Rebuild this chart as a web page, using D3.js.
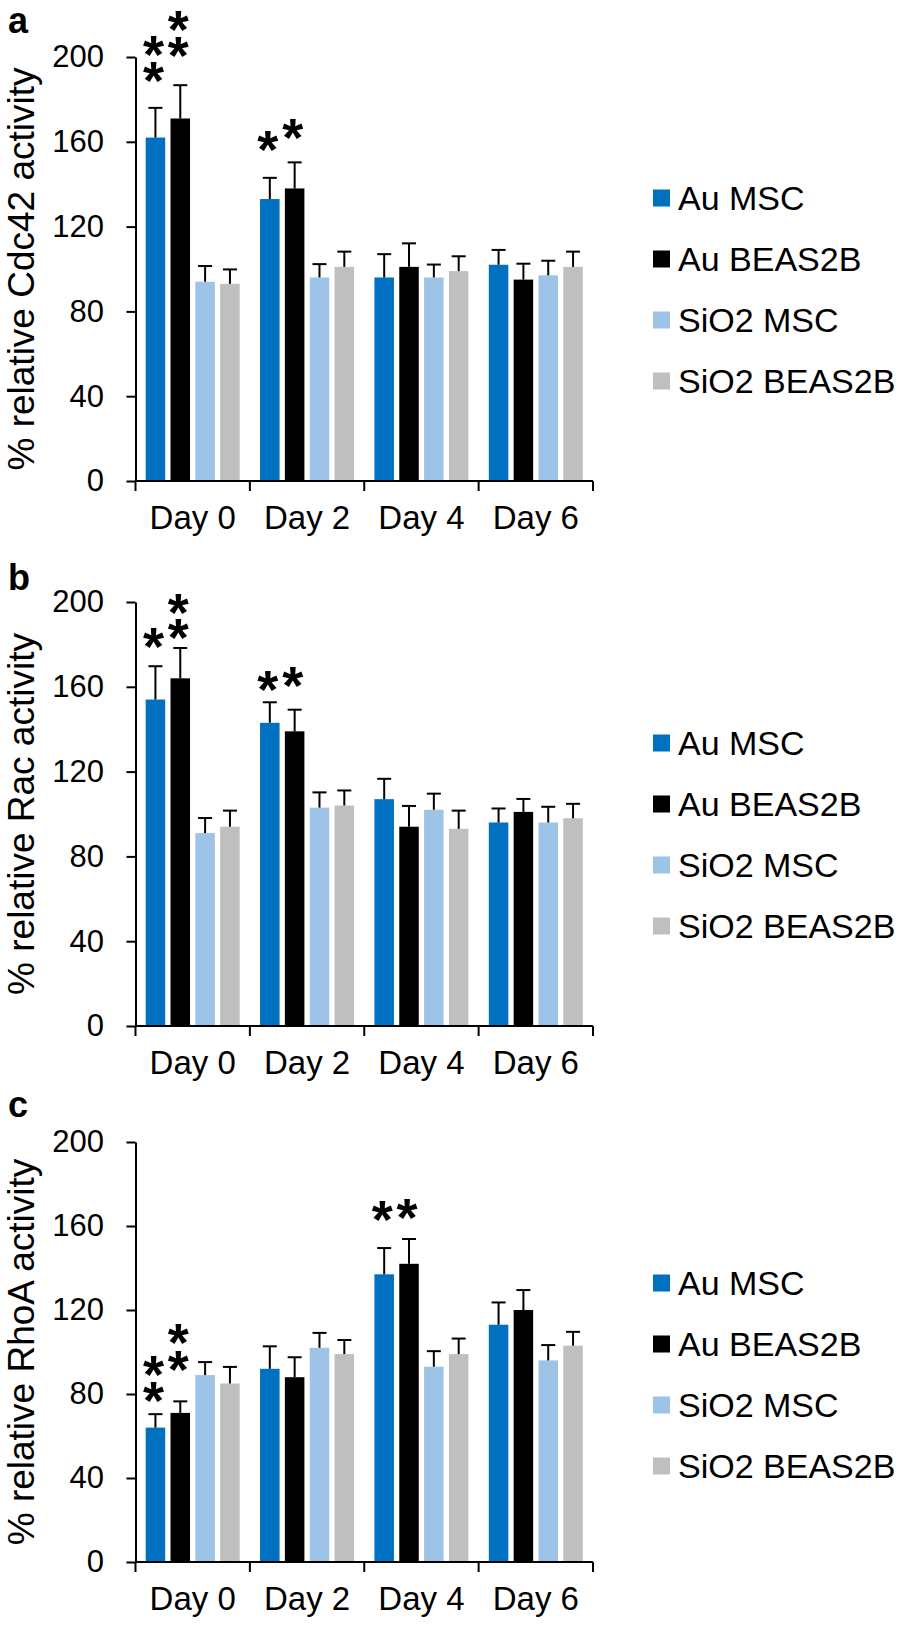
<!DOCTYPE html>
<html><head><meta charset="utf-8">
<script src="https://cdn.jsdelivr.net/npm/d3@7"></script>
<style>body{margin:0;background:#fff} svg{display:block}</style>
</head><body>
<script>
// ---------- data ----------
const days = ["Day 0", "Day 2", "Day 4", "Day 6"];
const seriesNames = ["Au MSC", "Au BEAS2B", "SiO2 MSC", "SiO2 BEAS2B"];
const seriesColors = ["#0070C0", "#000000", "#9DC3E6", "#BFBFBF"];
const yTicks = [0, 40, 80, 120, 160, 200];
const panelLetters = ["a", "b", "c"];
const yTitles = ["% relative Cdc42 activity", "% relative Rac activity", "% relative RhoA activity"];

// means [series][day]
const cdc42Mean = [[162, 133, 96, 102], [171, 138, 101, 95], [94, 96, 96, 97], [93, 101, 99, 101]];
const cdc42Err  = [[14, 10, 11, 7], [15.7, 12.3, 11.1, 7.5], [7.4, 6.3, 6.1, 6.9], [6.8, 7.2, 7, 7.2]];
const racMean   = [[154, 143, 107, 96], [164, 139, 94, 101], [91, 103, 102, 96], [94, 104, 93, 98]];
const racErr    = [[15.7, 9.7, 9.6, 6.6], [14.3, 10.2, 9.8, 6.1], [7.1, 7.2, 7.6, 7.4], [7.6, 7.1, 8.6, 6.8]];
const rhoaMean  = [[64, 92, 137, 113], [71, 88, 142, 120], [89, 102, 93, 96], [85, 99, 99, 103]];
const rhoaErr   = [[6.4, 10.7, 12.5, 10.6], [5.5, 9.5, 11.8, 9.5], [6.2, 7.1, 7.4, 7.3], [7.9, 6.7, 7.4, 6.6]];

// significance asterisks: [dayIndex, seriesIndex, value levels of the star centres (bottom to top)]
const cdc42Stars = [[0, 0, [194.8, 207.1]], [0, 1, [206.5, 218.8]], [1, 0, [162.3]], [1, 1, [167.9]]];
const racStars   = [[0, 0, [184.8]], [0, 1, [189, 200.8]], [1, 0, [164.5]], [1, 1, [166.4]]];
const rhoaStars  = [[0, 0, [82.9, 95.2]], [0, 1, [97.6, 110.5]], [2, 0, [169]], [2, 1, [170]]];

const panelMeans = [cdc42Mean, racMean, rhoaMean];
const panelErrs = [cdc42Err, racErr, rhoaErr];
const panelStars = [cdc42Stars, racStars, rhoaStars];

// ---------- layout ----------
const W = 898, H = 1627;
const FONT = "'Liberation Sans', Arial, Helvetica, sans-serif";
const xLeft = 135.5, xRight = 593;
const panelY = [[57, 481], [602, 1026], [1142, 1562]]; // [top(200), bottom(0)]
const letterBase = [33, 590, 1117];
const starFs = 54;

const svg = d3.select("body").append("svg")
  .attr("width", W).attr("height", H)
  .style("font-family", FONT);

// measure asterisk advance in vertical upright mode
const probe = svg.append("text")
  .style("writing-mode", "vertical-lr").style("text-orientation", "upright")
  .attr("font-size", starFs).attr("font-weight", "bold").text("*");
const starAdv = probe.node().getComputedTextLength();
const pb = probe.node().getBBox();
probe.remove();

const x = d3.scaleBand().domain(days).range([xLeft, xRight]).paddingInner(0).paddingOuter(0);
const xs = d3.scaleBand().domain(seriesNames).range([0, x.bandwidth()])
  .paddingInner(0.214).paddingOuter(0.41);
const color = d3.scaleOrdinal().domain(seriesNames).range(seriesColors);

panelLetters.forEach((letter, p) => {
  const [top, bottom] = panelY[p];
  const y = d3.scaleLinear().domain([0, 200]).range([bottom, top]);
  const g = svg.append("g");
  const means = panelMeans[p], errs = panelErrs[p];
  const cx = (di, si) => x(days[di]) + xs(seriesNames[si]) + xs.bandwidth() / 2;

  // bars + error bars
  seriesNames.forEach((s, si) => {
    const sg = g.append("g");
    sg.selectAll("rect").data(days).join("rect")
      .attr("x", d => x(d) + xs(s))
      .attr("width", xs.bandwidth())
      .attr("y", (d, di) => y(means[si][di]))
      .attr("height", (d, di) => y(0) - y(means[si][di]))
      .attr("fill", color(s));
    sg.selectAll("line.eb").data(days).join("line").attr("class", "eb")
      .attr("x1", (d, di) => cx(di, si)).attr("x2", (d, di) => cx(di, si))
      .attr("y1", (d, di) => y(means[si][di]))
      .attr("y2", (d, di) => y(means[si][di] + errs[si][di]))
      .attr("stroke", "#000").attr("stroke-width", 2);
    sg.selectAll("line.cap").data(days).join("line").attr("class", "cap")
      .attr("x1", (d, di) => cx(di, si) - 7).attr("x2", (d, di) => cx(di, si) + 7)
      .attr("y1", (d, di) => y(means[si][di] + errs[si][di]))
      .attr("y2", (d, di) => y(means[si][di] + errs[si][di]))
      .attr("stroke", "#000").attr("stroke-width", 2);
  });

  // asterisks: one vertical text run per stack
  panelStars[p].forEach(([di, si, vals]) => {
    const topV = d3.max(vals), botV = d3.min(vals);
    const n = vals.length;
    const gap = n > 1 ? (y(botV) - y(topV)) / (n - 1) : 0;
    const t = g.append("text").attr("class", "star")
      .style("writing-mode", "vertical-lr").style("text-orientation", "upright")
      .attr("font-size", starFs).attr("font-weight", "bold")
      .attr("x", cx(di, si) - 2)
      .text("*".repeat(n));
    if (n > 1) t.style("letter-spacing", (gap - starAdv) + "px");
    // ink centre of an asterisk sits ~0.57em above the baseline; in upright vertical
    // mode the glyph box begins at the ascent line
    const inkFromTop = pb.height > 0 ? (0.905 - 0.57) * starFs : 18;
    t.attr("y", y(topV) - inkFromTop);
  });

  // y axis
  const ya = g.append("g").attr("transform", `translate(${xLeft},0)`)
    .call(d3.axisLeft(y).tickValues(yTicks).tickSize(9).tickSizeOuter(0).tickPadding(22.5).tickFormat(d3.format("d")));
  ya.select(".domain").attr("stroke-width", 2);
  ya.selectAll(".tick line").attr("stroke-width", 2);
  ya.selectAll(".tick text").attr("font-size", 31).attr("font-family", FONT).attr("fill", "#000");

  // x axis
  g.append("line").attr("x1", xLeft).attr("x2", xRight).attr("y1", y(0)).attr("y2", y(0))
    .attr("stroke", "#000").attr("stroke-width", 2);
  const bounds = days.map(d => x(d)).concat([x(days[days.length - 1]) + x.bandwidth()]);
  g.selectAll("line.xt").data(bounds).join("line").attr("class", "xt")
    .attr("x1", d => d).attr("x2", d => d).attr("y1", y(0)).attr("y2", y(0) + 10)
    .attr("stroke", "#000").attr("stroke-width", 2);
  g.selectAll("text.xl").data(days).join("text").attr("class", "xl")
    .attr("x", d => x(d) + x.bandwidth() / 2).attr("y", y(0) + 48)
    .attr("text-anchor", "middle").attr("font-size", 33).text(d => d);

  // y title
  g.append("text")
    .attr("transform", `translate(34,${(top + bottom) / 2}) rotate(-90)`)
    .attr("text-anchor", "middle").attr("font-size", 37).text(yTitles[p]);

  // panel letter
  g.append("text").attr("x", 8).attr("y", letterBase[p])
    .attr("font-size", 36).attr("font-weight", "bold").text(letter);

  // legend
  const lg = g.append("g");
  seriesNames.forEach((s, si) => {
    const cy = top + 141 + si * 61;
    lg.append("rect").attr("x", 653).attr("y", cy - 8.5).attr("width", 17).attr("height", 17).attr("fill", color(s));
    lg.append("text").attr("x", 678).attr("y", cy + 12).attr("font-size", 34).text(s);
  });
});
</script>
</body></html>
